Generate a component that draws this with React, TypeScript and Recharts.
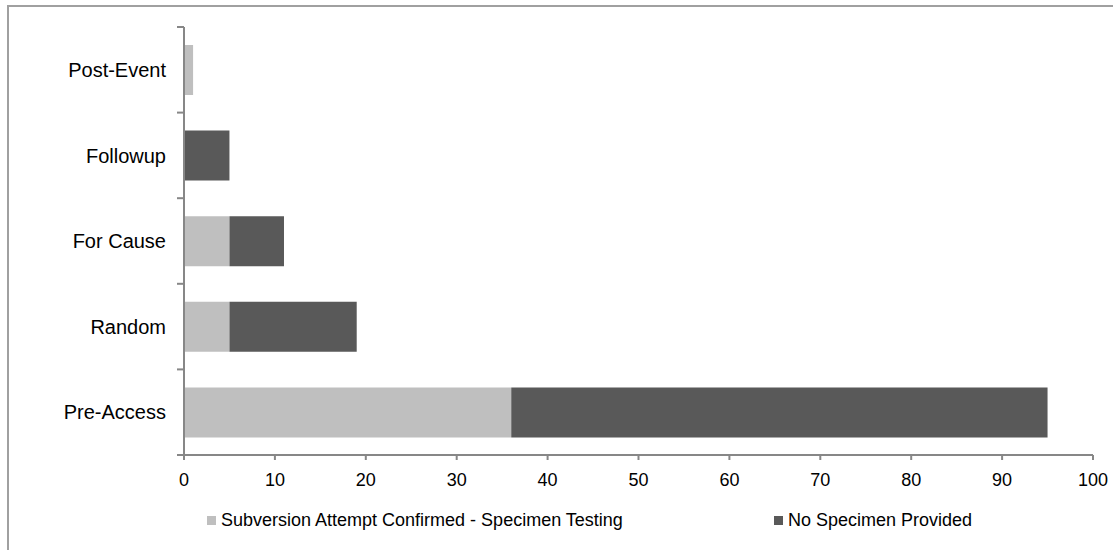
import { BarChart, Bar, XAxis, YAxis } from "recharts";

const categories = ["Post-Event", "Followup", "For Cause", "Random", "Pre-Access"];
const confirmed = [1, 0, 5, 5, 36];
const noSpecimen = [0, 5, 6, 14, 59];
const xTicks = [0, 10, 20, 30, 40, 50, 60, 70, 80, 90, 100];

const SERIES = [
  { key: "confirmed", name: "Subversion Attempt Confirmed - Specimen Testing", color: "#bfbfbf" },
  { key: "noSpecimen", name: "No Specimen Provided", color: "#595959" },
];

const AXIS = "#878787";
const FONT = "'Liberation Sans', Arial, sans-serif";

const data = categories.map((c, i) => ({
  name: c,
  confirmed: confirmed[i],
  noSpecimen: noSpecimen[i],
}));

// Excel puts category ticks on band boundaries, not centers
function CategoryTick(props: any) {
  const { x, y, payload, index } = props;
  const half = payload.offset ?? 0;
  const last = index === categories.length - 1;
  return (
    <g>
      <line x1={x - 7} x2={x} y1={y - half} y2={y - half} stroke={AXIS} strokeWidth={2} />
      {last && <line x1={x - 7} x2={x} y1={y + half} y2={y + half} stroke={AXIS} strokeWidth={2} />}
      <text x={x - 18} y={y} dy="0.36em" textAnchor="end" fontSize={20} fill="#000" fontFamily={FONT}>
        {payload.value}
      </text>
    </g>
  );
}

function LegendBox() {
  return (
    <div style={{ display: "flex", fontFamily: FONT, fontSize: 18, color: "#000" }}>
      {SERIES.map((s) => (
        <div key={s.key} style={{ width: 567, display: "flex", alignItems: "center" }}>
          <span style={{ width: 9, height: 9, background: s.color, marginRight: 5, display: "inline-block" }} />
          <span>{s.name}</span>
        </div>
      ))}
    </div>
  );
}

export default function App() {
  return (
    <div
      style={{
        position: "absolute",
        left: 0,
        top: 0,
        width: 1113,
        height: 550,
        overflow: "hidden",
        background: "#fff",
      }}
    >
      <div
        style={{
          position: "absolute",
          left: 7,
          top: 5,
          width: 2000,
          height: 2000,
          borderLeft: "2px solid #a0a0a0",
          borderTop: "2px solid #a0a0a0",
        }}
      />
      <div style={{ position: "absolute", left: 0, top: 0 }}>
        <BarChart
          width={1113}
          height={550}
          data={data}
          layout="vertical"
          margin={{ top: 27, right: 20, bottom: 55, left: 0 }}
          barSize={50}
        >
          <XAxis
            type="number"
            domain={[0, 100]}
            ticks={xTicks}
            height={40}
            tickSize={5}
            tickMargin={13}
            axisLine={{ stroke: AXIS, strokeWidth: 2 }}
            tickLine={{ stroke: AXIS, strokeWidth: 2 }}
            tick={{ fill: "#000", fontSize: 18, fontFamily: FONT }}
          />
          <YAxis
            type="category"
            dataKey="name"
            width={184}
            tickSize={0}
            tickMargin={0}
            axisLine={{ stroke: AXIS, strokeWidth: 2 }}
            tickLine={false}
            tick={<CategoryTick />}
            interval={0}
          />
          {SERIES.map((s) => (
            <Bar
              key={s.key}
              dataKey={s.key}
              name={s.name}
              stackId="a"
              fill={s.color}
              isAnimationActive={false}
            />
          ))}
        </BarChart>
      </div>
      <div style={{ position: "absolute", left: 207, top: 510 }}>
        <LegendBox />
      </div>
    </div>
  );
}
